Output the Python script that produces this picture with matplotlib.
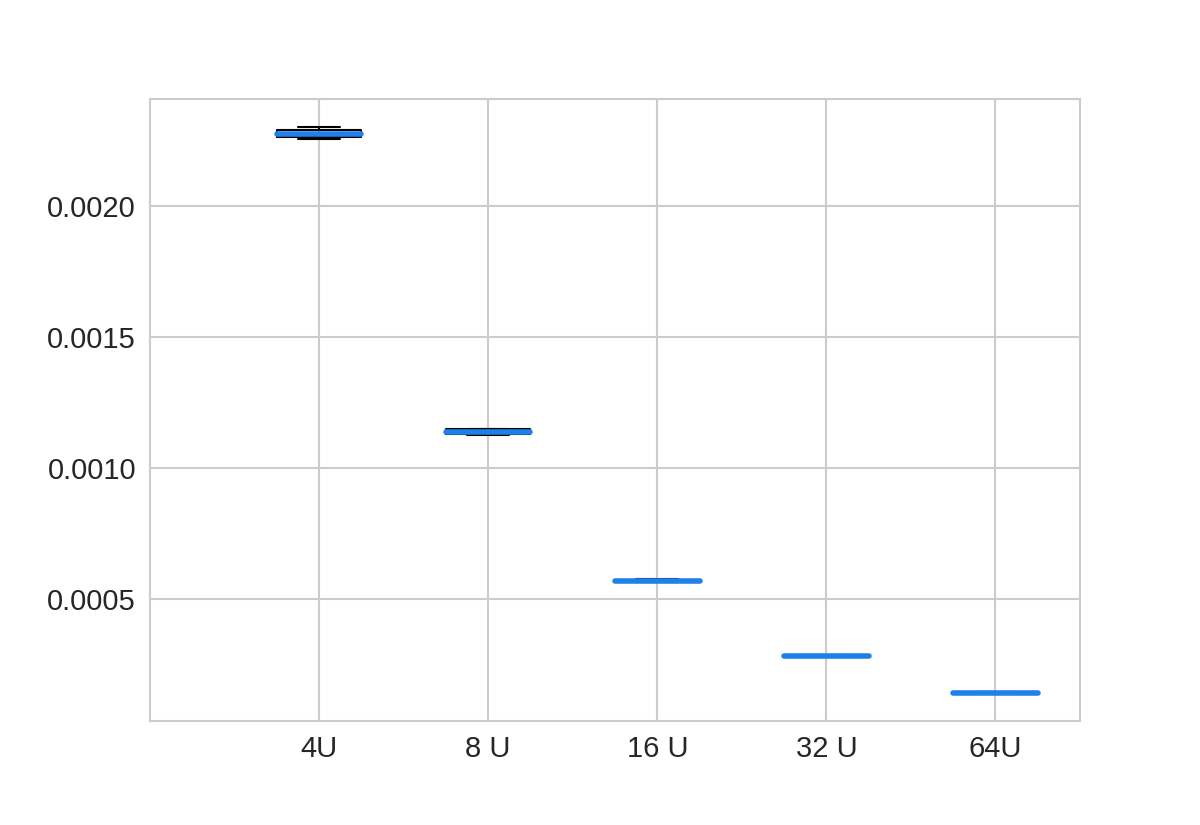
import matplotlib
matplotlib.use("Agg")
import matplotlib.pyplot as plt
import seaborn as sns

sns.set_style("whitegrid")
plt.rcParams['font.family'] = ['Liberation Sans', 'DejaVu Sans']

labels = ["4U", "8 U", "16 U", "32 U", "64U"]
# samples (min, q1, median, q3, max)
u4 = [0.002255, 0.002261, 0.002275, 0.002290, 0.002299]
u8 = [0.001125, 0.001128, 0.001137, 0.001146, 0.001149]
u16 = [0.000565, 0.000566, 0.000569, 0.000573, 0.000575]
u32 = [0.000282, 0.000282, 0.000283, 0.000283, 0.000284]
u64 = [0.000141, 0.000142, 0.000142, 0.000143, 0.000143]
data = [u4, u8, u16, u32, u64]

fig, ax = plt.subplots(figsize=(12, 8.25), dpi=100)
fig.subplots_adjust(left=0.125, right=0.9, top=0.88, bottom=0.126)

ax.boxplot(data, positions=range(1, 6), widths=0.5,
           boxprops=dict(color="black", linewidth=1.5),
           whiskerprops=dict(color="black", linewidth=1.5),
           capprops=dict(color="black", linewidth=1.5),
           medianprops=dict(color="#1f80ea", linewidth=4, solid_capstyle="round"),
           showfliers=False)

ax.set_xlim(0, 5.5)
ax.set_xticks(range(1, 6))
ax.set_xticklabels(labels)
ax.set_yticks([0.0005, 0.0010, 0.0015, 0.0020])
ax.set_yticklabels(["0.0005", "0.0010", "0.0015", "0.0020"])
ax.tick_params(labelsize=21, colors="#262626", length=0, pad=10)
ax.grid(True, color="#cccccc", linewidth=1.5)
for s in ax.spines.values():
    s.set_color("#cccccc")
    s.set_linewidth(1.5)

fig.savefig("out.png", dpi=100)
